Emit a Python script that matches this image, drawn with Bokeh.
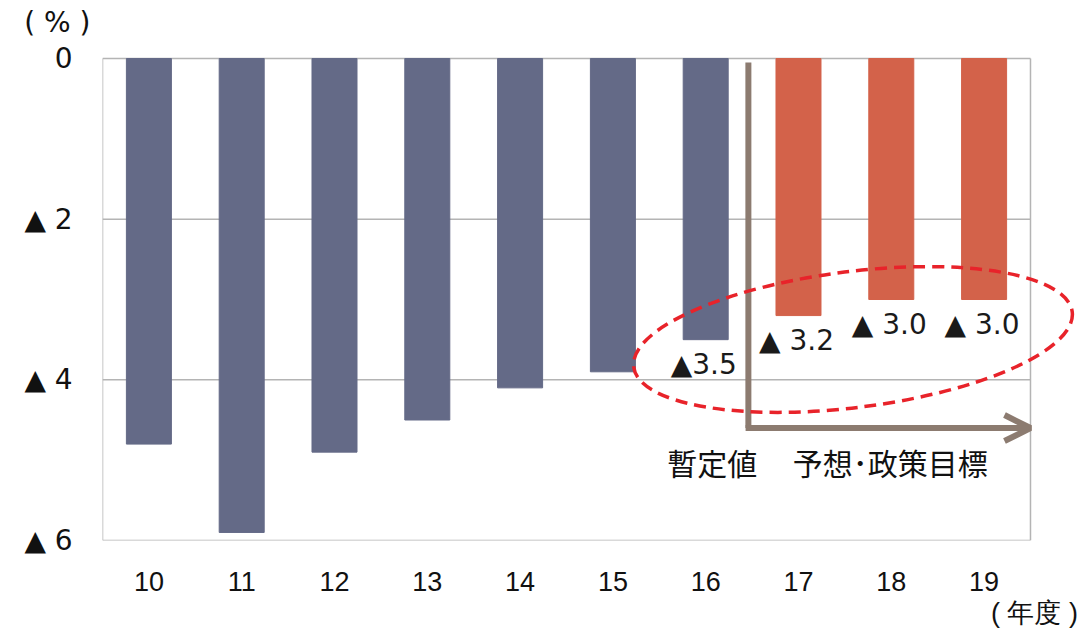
from bokeh.plotting import figure
from bokeh.models import Range1d, FixedTicker, Label, Arrow, OpenHead, ColumnDataSource, LinearAxis
from bokeh.core.properties import value
from bokeh.embed import file_html
from bokeh.resources import INLINE

# ---- data ----
years = ["10", "11", "12", "13", "14", "15", "16", "17", "18", "19"]
deficit = [-4.8, -5.9, -4.9, -4.5, -4.1, -3.9, -3.5, -3.2, -3.0, -3.0]
kind = ["actual"] * 7 + ["forecast"] * 3
y_ticks = [0, -2, -4, -6]
y_tick_labels = ["0", "▲ 2", "▲ 4", "▲ 6"]
value_labels = ["▲3.5", "▲ 3.2", "▲ 3.0", "▲ 3.0"]
value_label_from = 6  # index of the first labelled bar
y_unit = "( % )"
x_unit = "( 年度 )"

BLUE = "#646a87"
ORANGE = "#d3624a"
ARROW = "#8c7b70"
GRID = "#b4b4b4"
FS = "\u2007"  # figure space used to pad tick labels

xs = list(range(len(years)))
colors = [BLUE if k == "actual" else ORANGE for k in kind]
src = ColumnDataSource(dict(x=xs, top=[0] * len(xs), bottom=deficit, color=colors))

# layout constants
X0, X1 = -0.5, 9.5          # plotted category extent
Y_UNIT_POS = 0.448          # position of the unit label above the plot
X_UNIT_POS = 9.543

p = figure(width=1084, height=630, output_backend="svg", toolbar_location=None,
           x_range=Range1d(-0.5, 10.082), y_range=Range1d(-6, 0.722),
           min_border_left=102, min_border_top=0, min_border_right=0, min_border_bottom=90)
p.background_fill_color = "white"
p.border_fill_color = "white"
p.outline_line_color = None
p.xgrid.visible = False
p.ygrid.visible = False

# plot box and horizontal grid lines
p.segment(x0=[X0] * len(y_ticks), x1=[X1] * len(y_ticks), y0=y_ticks, y1=y_ticks,
          line_color=GRID, line_width=1.5)
p.segment(x0=[X0, X1], x1=[X0, X1], y0=[min(y_ticks)] * 2, y1=[max(y_ticks)] * 2,
          line_color=GRID, line_width=1.5)

p.vbar(x="x", top="top", bottom="bottom", width=0.485, color="color", source=src)

# axes
p.xaxis.ticker = FixedTicker(ticks=xs)
p.xaxis.major_label_overrides = {i: y for i, y in enumerate(years)}
p.xaxis.major_label_text_font = "Liberation Sans"
p.xaxis.major_label_text_font_size = "27px"
p.xaxis.major_label_standoff = 31

p.yaxis.ticker = FixedTicker(ticks=y_ticks + [Y_UNIT_POS])
ov = {t: l + FS for t, l in zip(y_ticks, y_tick_labels)}
ov[Y_UNIT_POS] = y_unit
p.yaxis.major_label_overrides = ov
p.yaxis.major_label_text_font = "DejaVu Sans"
p.yaxis.major_label_text_font_size = "28px"
p.yaxis.major_label_standoff = 12

xunit_axis = LinearAxis(ticker=FixedTicker(ticks=[X_UNIT_POS]),
                        major_label_overrides={X_UNIT_POS: x_unit})
xunit_axis.major_label_text_font = "Liberation Sans"
xunit_axis.major_label_text_font_size = "27px"
xunit_axis.major_label_standoff = 4
p.add_layout(xunit_axis, "below")

for ax in (p.xaxis + p.yaxis):
    ax.axis_line_color = None
    ax.major_tick_line_color = None
    ax.minor_tick_line_color = None
    ax.major_tick_out = 0
    ax.minor_tick_out = 0
    ax.major_label_text_color = "#111111"

# value labels below the last bars
lx = xs[value_label_from:]
ly = deficit[value_label_from:]
p.text(x=lx, y=ly, text=value_labels, text_font=value("DejaVu Sans"), text_font_size="28px",
       text_color="#1a1a1a", text_align="center", text_baseline="middle", y_offset=25, x_offset=-2)

# arrow separating provisional vs. forecast
p.line(x=[6.46, 6.46], y=[-0.05, -4.6], line_color=ARROW, line_width=6)
p.add_layout(Arrow(x_start=6.43, y_start=-4.6, x_end=9.5, y_end=-4.6, line_color=ARROW, line_width=6,
                   end=OpenHead(size=26, line_color=ARROW, line_width=6)))

# dashed ellipse
p.ellipse(x=[7.587], y=[-3.498], width=[442], height=[136], angle=[0.125],
          width_units="screen", height_units="screen",
          fill_alpha=0, line_color="#e8232a", line_width=3.5, line_dash="12 7")

cjk = "Noto Sans CJK JP"
for txt, x, y in [("暫定値", 6.07, -5.017), ("予想･政策目標", 7.99, -5.017)]:
    p.add_layout(Label(x=x, y=y, text=txt, text_font=cjk, text_font_size="30px", text_color="#111111",
                       text_align="center", text_baseline="middle"))

open("out.html", "w").write(file_html(p, INLINE))
